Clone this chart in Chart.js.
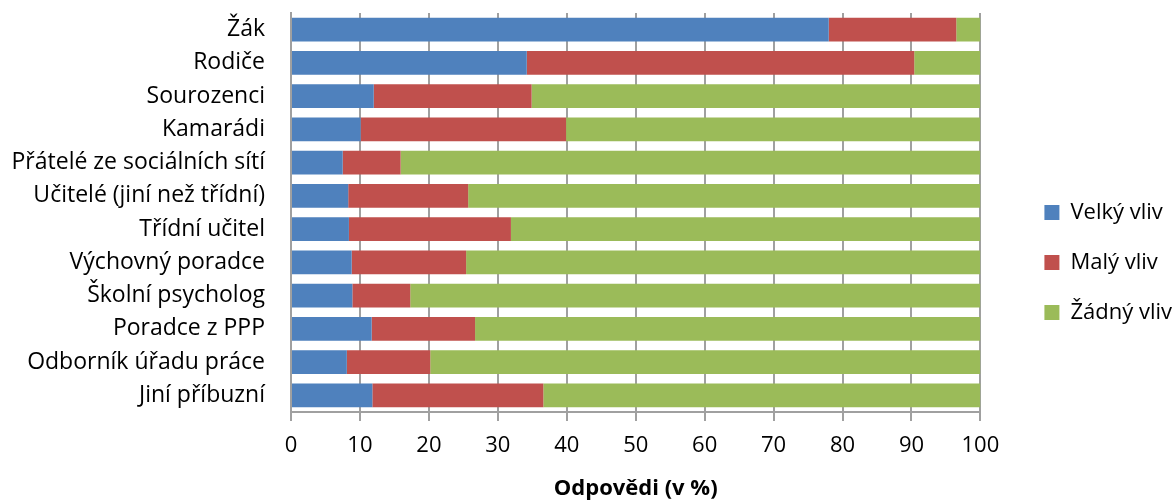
<!DOCTYPE html>
<html><head><meta charset="utf-8">
<script src="https://cdn.jsdelivr.net/npm/chart.js@4"></script>
<style>html,body{margin:0;padding:0;background:#fff}#wrap{width:1176px;height:502px}</style>
</head><body><div id="wrap"><canvas id="c" width="1176" height="502"></canvas></div>
<script>
const categories = ["Žák","Rodiče","Sourozenci","Kamarádi","Přátelé ze sociálních sítí","Učitelé (jiní než třídní)","Třídní učitel","Výchovný poradce","Školní psycholog","Poradce z PPP","Odborník úřadu práce","Jiní příbuzní"];
const velkyVliv = [78.0, 34.2, 12.0, 10.1, 7.5, 8.3, 8.4, 8.8, 8.9, 11.7, 8.1, 11.8];
const malyVliv  = [18.5, 56.2, 22.9, 29.8, 8.4, 17.4, 23.5, 16.6, 8.4, 15.0, 12.1, 24.8];
const zadnyVliv = [3.5, 9.6, 65.1, 60.1, 84.1, 74.3, 68.1, 74.6, 82.7, 73.3, 79.8, 63.4];
const xTicks = [0,10,20,30,40,50,60,70,80,90,100];
const seriesNames = ["Velký vliv","Malý vliv","Žádný vliv"];

const FONT = "'Open Sans'";

// move the built-in legend a little to the right/down of where the layout puts it
const legendShift = {
  id: 'legendShift',
  afterLayout(chart) {
    const lg = chart.legend;
    if (!lg) return;
    const dx = chart.chartArea.right + 36 - lg.left;
    lg.left += dx; lg.right += dx;
    lg.top += 5; lg.bottom += 5;
  }
};

new Chart(document.getElementById('c'), {
  type: 'bar',
  data: {
    labels: categories,
    datasets: [
      {label: seriesNames[0], data: velkyVliv, backgroundColor: '#4F81BD'},
      {label: seriesNames[1], data: malyVliv, backgroundColor: '#C0504D'},
      {label: seriesNames[2], data: zadnyVliv, backgroundColor: '#9BBB59'}
    ]
  },
  plugins: [legendShift],
  options: {
    indexAxis: 'y',
    responsive: false,
    animation: false,
    devicePixelRatio: 1,
    datasets: {bar: {barPercentage: 0.72, categoryPercentage: 1.0, borderWidth: 0}},
    layout: {padding: {top: 13, left: 0, right: 30, bottom: 0}},
    plugins: {
      tooltip: {enabled: false},
      legend: {
        position: 'right',
        align: 'center',
        labels: {
          color: '#000',
          font: {family: FONT, size: 22},
          boxWidth: 15, boxHeight: 15,
          padding: 28
        }
      }
    },
    scales: {
      x: {
        stacked: true, min: 0, max: 100,
        afterBuildTicks: (s) => { s.ticks = xTicks.map(v => ({value: v})); },
        afterFit: (s) => { s.height = 90; },
        grid: {color: '#a0a0a0', lineWidth: 2, tickLength: 9, drawTicks: true},
        border: {color: '#a0a0a0', width: 2},
        ticks: {color: '#000', font: {family: FONT, size: 22}, padding: 12, maxRotation: 0},
        title: {display: true, text: 'Odpovědi (v %)', color: '#000', font: {family: FONT, size: 22, weight: 'bold'}, padding: {top: 0, bottom: 0}}
      },
      y: {
        stacked: true,
        afterFit: (s) => { s.width = 291; s.paddingTop = 0; s.paddingBottom = 0; },
        grid: {display: false, drawOnChartArea: false},
        border: {color: '#a0a0a0', width: 2},
        ticks: {color: '#000', font: {family: FONT, size: 23}, padding: 18}
      }
    }
  }
});
</script></body></html>
